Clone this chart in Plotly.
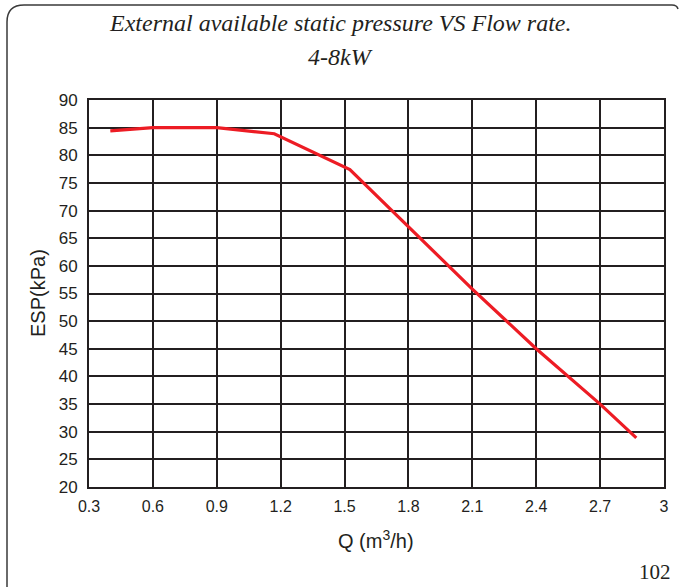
import plotly.graph_objects as go

# ---------- 数据 ----------
flow_q = [0.40, 0.60, 0.90, 1.17, 1.525, 1.80, 2.10, 2.40, 2.70, 2.87]
esp_kpa = [84.4, 85.0, 85.0, 83.9, 77.4, 67.1, 55.8, 45.0, 35.0, 28.9]

x_ticks = [0.3, 0.6, 0.9, 1.2, 1.5, 1.8, 2.1, 2.4, 2.7, 3.0]
x_labels = ['0.3', '0.6', '0.9', '1.2', '1.5', '1.8', '2.1', '2.4', '2.7', '3']
y_ticks = list(range(20, 95, 5))

title_1 = 'External available static pressure VS Flow rate.'
title_2 = '4-8kW'
page_no = '102'

# ---------- 版面 ----------
W, H = 680, 587
L, R, T, B = 89, 16, 100, 100
PW, PH = W - L - R, H - T - B
INK = '#231f20'


def px(x):
    return (x - L) / PW


def py(y):
    return (H - B - y) / PH


fig = go.Figure()
fig.add_trace(go.Scatter(x=flow_q, y=esp_kpa, mode='lines',
                         line=dict(color='#ed1c24', width=3.2), showlegend=False,
                         hoverinfo='skip'))

axis_common = dict(showgrid=True, gridcolor=INK, gridwidth=2,
                   showline=True, linecolor=INK, linewidth=2, mirror=True,
                   zeroline=False, ticks='', color=INK)

fig.update_xaxes(range=[0.3, 3.0], tickvals=x_ticks, ticktext=x_labels, ticklabelstandoff=4,
                 tickfont=dict(family='Liberation Sans, Arial', size=16, color=INK), **axis_common)
fig.update_yaxes(range=[20, 90], tickvals=y_ticks, ticklabelstandoff=6,
                 tickfont=dict(family='Liberation Sans, Arial', size=17, color=INK), **axis_common)


def note(text, x, y, size, family='Liberation Sans, Arial', xanchor='center', angle=0):
    fig.add_annotation(text=text, x=px(x), y=py(y), xref='paper', yref='paper',
                       xanchor=xanchor, yanchor='middle', textangle=angle, showarrow=False,
                       font=dict(family=family, size=size, color=INK))


# 坐标轴标题、大标题、页码
note('Q (m<sup>3</sup>/h)', 376, 539, 20)
note('ESP(kPa)', 38, 293, 20, angle=-90)
note('<i>' + title_1 + '</i>', 340, 23, 24, family='Liberation Serif, serif')
note('<i>' + title_2 + '</i>', 340, 57, 24, family='Liberation Serif, serif')
note(page_no, 673, 572, 21, family='Liberation Serif, serif', xanchor='right')

# 外框（左、上，圆角）
path = (f'M {px(7)},{py(590)} L {px(7)},{py(22)} '
        f'Q {px(7)},{py(5)} {px(24)},{py(5)} L {px(672)},{py(5)} '
        f'Q {px(677)},{py(5)} {px(678)},{py(9)}')
fig.add_shape(type='path', path=path, xref='paper', yref='paper',
              line=dict(color='#3a3a3a', width=1.5))

fig.update_layout(width=W, height=H, margin=dict(l=L, r=R, t=T, b=B),
                  paper_bgcolor='white', plot_bgcolor='white')

# 去掉页面 body 的默认 8px 边距，让图贴齐窗口左上角
fig.write_html('out.html', config={'displayModeBar': False},
               post_script="document.body.style.margin='0';")
